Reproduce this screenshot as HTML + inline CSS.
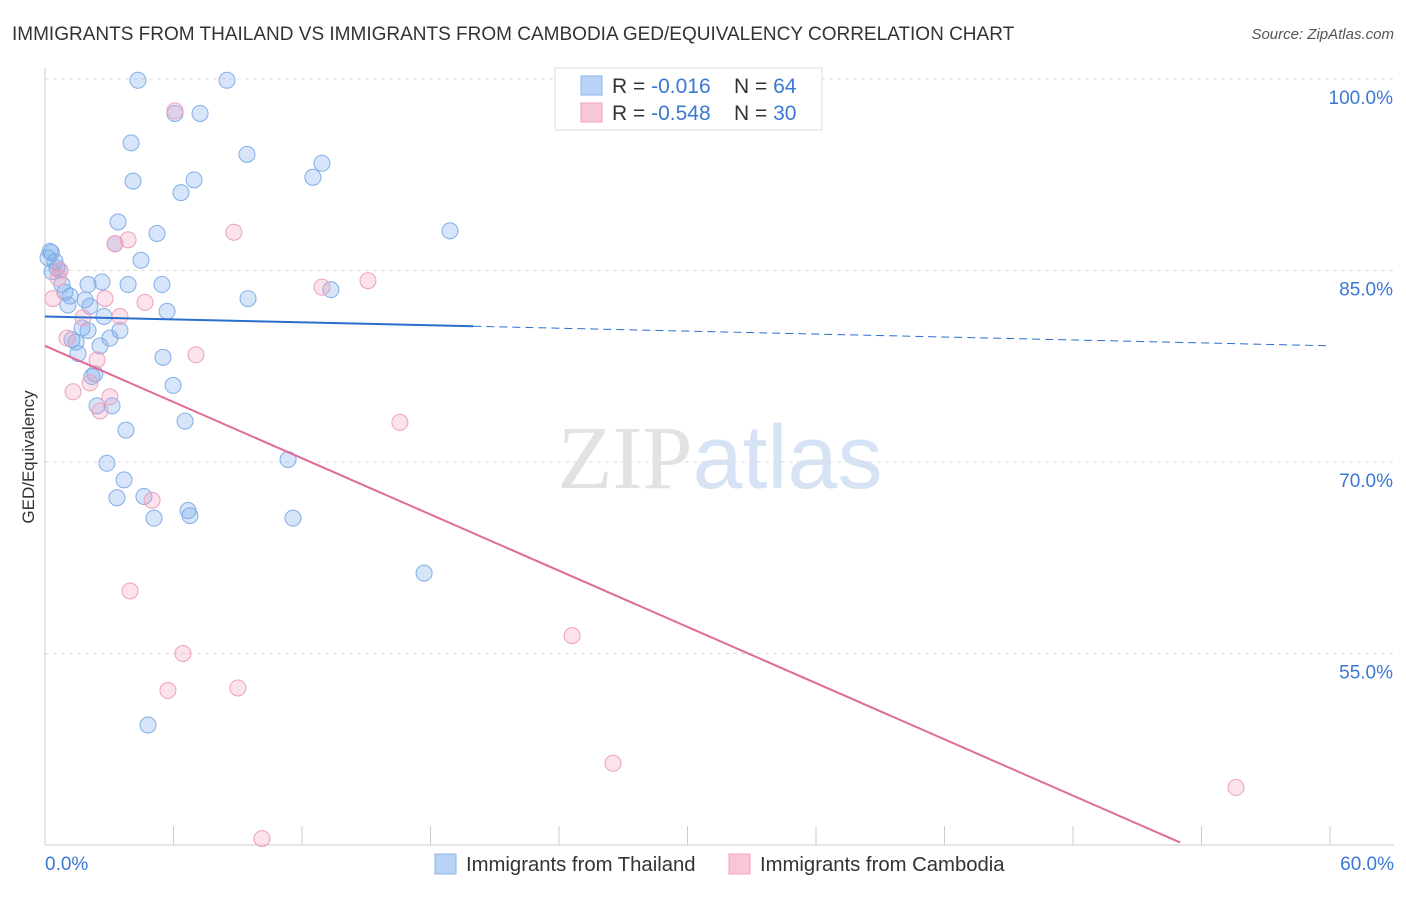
<!DOCTYPE html>
<html><head><meta charset="utf-8">
<style>
body{margin:0;background:#fff;font-family:"Liberation Sans",sans-serif;}
svg text{font-family:"Liberation Sans",sans-serif;}
</style></head>
<body>
<svg id="chart" width="1406" height="892" viewBox="0 0 1406 892">
  <text x="12" y="40" font-size="19" fill="#333">IMMIGRANTS FROM THAILAND VS IMMIGRANTS FROM CAMBODIA GED/EQUIVALENCY CORRELATION CHART</text>
  <text x="1394" y="39" font-size="15" fill="#555" font-style="italic" text-anchor="end">Source: ZipAtlas.com</text>
  <text x="720" y="488" font-size="90" text-anchor="middle"><tspan fill="#e2e2e2" font-family="Liberation Serif">ZIP</tspan><tspan fill="#d6e3f4">atlas</tspan></text>
  <g id="grid"></g>
  <g id="axes"></g>
  <g id="points"></g>
  <g id="trends"></g>
  <text transform="translate(34,457) rotate(-90)" font-size="17" fill="#333" text-anchor="middle">GED/Equivalency</text>
  <g>
    <rect x="555" y="68" width="267" height="62" fill="#fff" stroke="#ddd"/>
    <rect x="581" y="76" width="21" height="19" fill="#b8d3f5" stroke="#8fb6ea"/>
    <rect x="581" y="103" width="21" height="19" fill="#f9c6d6" stroke="#eea3bc"/>
    <text x="612" y="93" font-size="21" fill="#333">R = <tspan fill="#3a78d4">-0.016</tspan></text>
    <text x="734" y="93" font-size="21" fill="#333">N = <tspan fill="#3a78d4">64</tspan></text>
    <text x="612" y="120" font-size="21" fill="#333">R = <tspan fill="#3a78d4">-0.548</tspan></text>
    <text x="734" y="120" font-size="21" fill="#333">N = <tspan fill="#3a78d4">30</tspan></text>
  </g>
  <g>
    <rect x="435" y="854" width="21" height="20" fill="#b8d3f5" stroke="#8fb6ea"/>
    <text x="466" y="871" font-size="20.3" fill="#333">Immigrants from Thailand</text>
    <rect x="729" y="854" width="21" height="20" fill="#f9c6d6" stroke="#eea3bc"/>
    <text x="760" y="871" font-size="20.3" fill="#333">Immigrants from Cambodia</text>
  </g>
</svg>
<script>
const yTicks=[100,85,70,55];
const yTickLabels=["100.0%","85.0%","70.0%","55.0%"];
const xTickLabels=["0.0%","60.0%"];
const thaiX=[4.34,8.50,6.07,7.24,4.02,9.43,12.93,4.11,6.96,6.35,12.51,3.41,5.23,18.91,3.27,0.23,0.14,4.48,0.47,0.70,0.33,0.79,2.01,2.66,3.88,5.46,0.93,1.17,1.07,2.10,9.48,13.35,5.70,2.75,1.73,2.01,3.50,3.03,1.26,2.57,1.54,5.51,2.33,5.98,2.43,3.13,6.54,3.78,11.35,2.89,3.69,3.36,4.62,6.68,6.77,5.09,11.58,17.70,4.81,2.19,1.45,0.56,1.87,0.3];
const thaiY=[99.9,99.9,97.3,97.3,95.0,94.1,93.4,92.0,92.1,91.1,92.3,88.8,87.9,88.1,87.1,86.5,86.0,85.8,85.7,85.0,84.9,83.9,83.9,84.1,83.9,83.9,83.3,83.0,82.3,82.2,82.8,83.5,81.8,81.4,80.5,80.3,80.3,79.7,79.6,79.1,78.5,78.2,76.9,76.0,74.4,74.4,73.2,72.5,70.2,69.9,68.6,67.2,67.3,66.2,65.8,65.6,65.6,61.3,49.4,76.7,79.4,85.2,82.7,86.4];
const cambX=[6.07,8.82,3.88,3.27,15.08,12.93,4.67,0.37,2.80,1.77,3.50,1.03,2.43,7.05,2.10,1.31,3.03,2.57,16.57,5.00,3.97,24.61,6.44,5.74,9.01,26.52,55.61,10.13,0.61,0.70];
const cambY=[97.5,88.0,87.4,87.1,84.2,83.7,82.5,82.8,82.8,81.3,81.4,79.7,78.0,78.4,76.2,75.5,75.1,74.0,73.1,67.0,59.9,56.4,55.0,52.1,52.3,46.4,44.5,40.5,84.4,85.0];
const thaiTrend=[81.4,79.1];
const cambTrend=[79.1,40.2];

const NS="http://www.w3.org/2000/svg";
const X0=45,X1=1330,Y0=845,Y1=79;
const sx=v=>X0+(v/60)*(X1-X0);
const sy=v=>Y0-((v-40)/60)*(Y0-Y1);
function mk(tag,attrs,parent){const e=document.createElementNS(NS,tag);for(const k in attrs)e.setAttribute(k,attrs[k]);parent.appendChild(e);return e;}
const grid=document.getElementById('grid'),axes=document.getElementById('axes'),pts=document.getElementById('points'),tr=document.getElementById('trends');
yTicks.forEach((t,i)=>{
  const l=mk('line',{x1:X0,x2:1394,y1:sy(t),y2:sy(t),stroke:'#ddd','stroke-dasharray':'4,4'},grid);
  
  
  const tx=mk('text',{x:1393,y:sy(t)+25,'font-size':19,fill:'#3a78d4','text-anchor':'end'},grid);
  tx.textContent=yTickLabels[i];
  
  
});
const ax=mk('line',{x1:X0,x2:X0,y1:68,y2:Y0,stroke:'#ccc'},axes);


const bx=mk('line',{x1:X0,x2:1394,y1:Y0,y2:Y0,stroke:'#ccc'},axes);


for(let v=0;v<=60;v+=6){
  const t=mk('line',{x1:sx(v),x2:sx(v),y1:826,y2:Y0,stroke:'#ccc'},axes);
  
  
}
[[0,'start',45],[60,'end',1394]].forEach((d,i)=>{
  const t=mk('text',{x:d[2],y:870,'font-size':19,fill:'#3a78d4','text-anchor':d[1]},axes);
  t.textContent=xTickLabels[i];
  
  
});
thaiX.forEach((x,i)=>{
  const c=mk('circle',{cx:sx(x),cy:sy(thaiY[i]),r:8,fill:'rgba(120,170,235,0.3)',stroke:'#82aee6','stroke-width':1},pts);
  
  
});
cambX.forEach((x,i)=>{
  const c=mk('circle',{cx:sx(x),cy:sy(cambY[i]),r:8,fill:'rgba(245,160,190,0.3)',stroke:'#eea0bb','stroke-width':1},pts);
  
  
});
const ty=x=>thaiTrend[0]+(thaiTrend[1]-thaiTrend[0])*x/60;
const l1=mk('line',{x1:sx(0),y1:sy(ty(0)),x2:sx(20),y2:sy(ty(20)),stroke:'#2a6fd0','stroke-width':2},tr);


const l2=mk('line',{x1:sx(20),y1:sy(ty(20)),x2:sx(60),y2:sy(ty(60)),stroke:'#2a6fd0','stroke-width':1,'stroke-dasharray':'8,5'},tr);


const cy=x=>cambTrend[0]+(cambTrend[1]-cambTrend[0])*x/53;
const l3=mk('line',{x1:sx(0),y1:sy(cy(0)),x2:sx(53),y2:sy(cy(53)),stroke:'#e06a98','stroke-width':2},tr);


</script>
</body></html>
